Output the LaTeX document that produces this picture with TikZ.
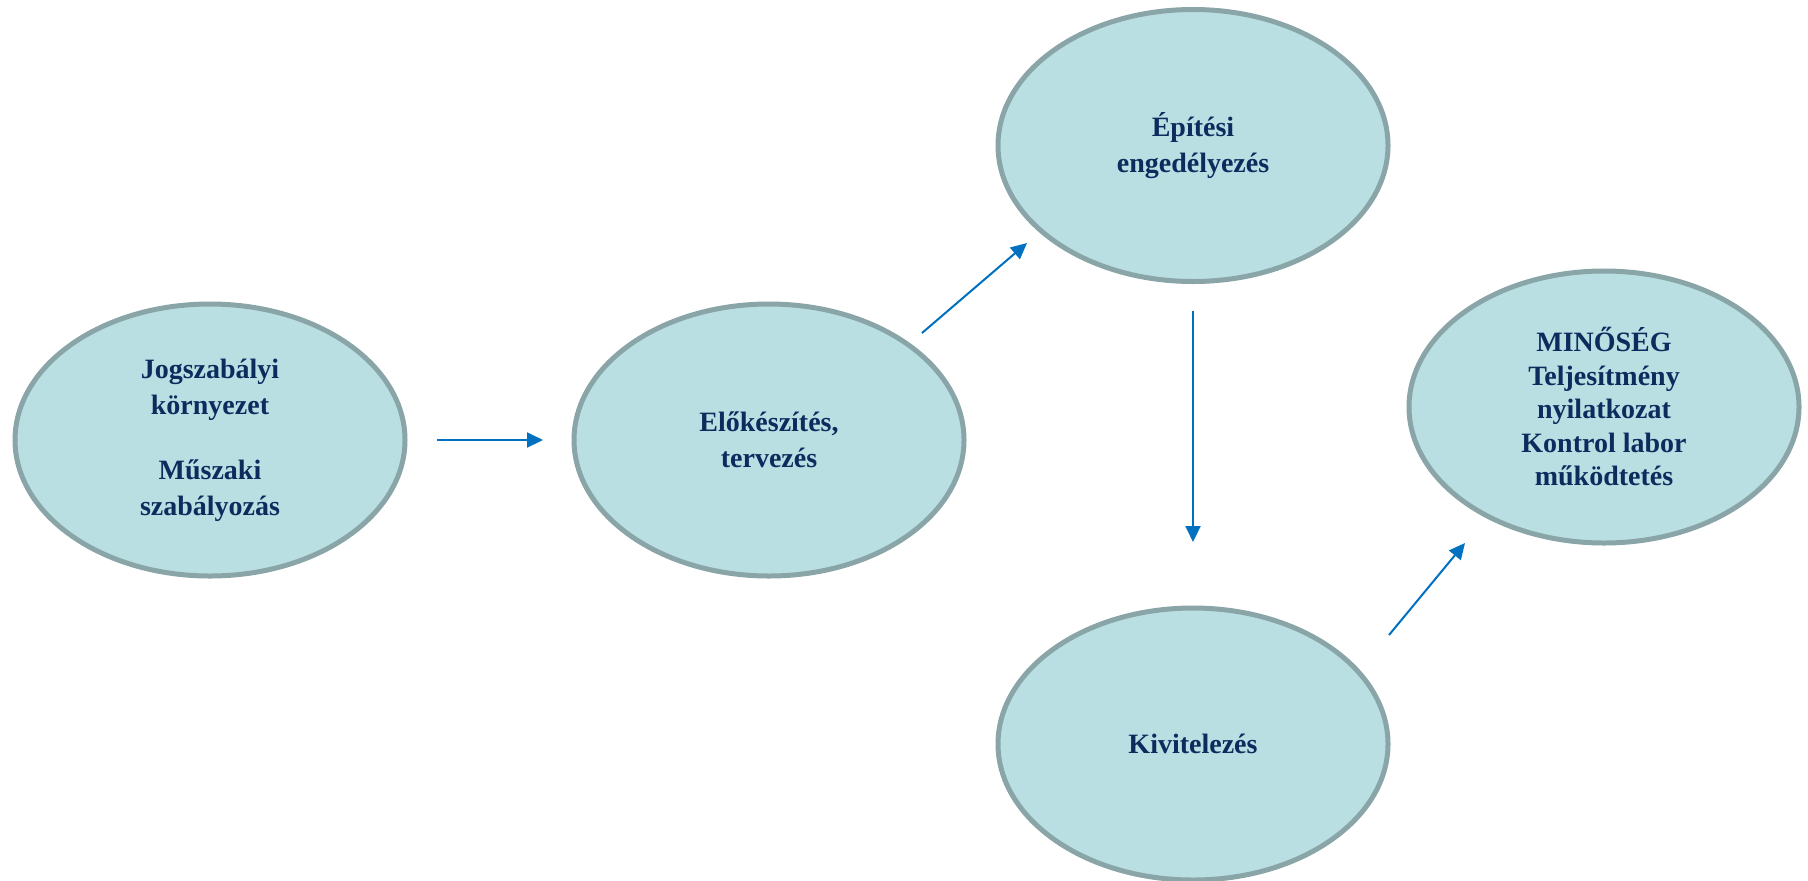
\documentclass[tikz,border=0pt]{standalone}
\usepackage{fontspec}
\setmainfont{Liberation Serif}
\usetikzlibrary{shapes.geometric,arrows.meta}
\definecolor{ovalfill}{RGB}{185,223,227}
\definecolor{ovaledge}{RGB}{138,165,168}
\definecolor{flowblue}{RGB}{0,112,192}
\definecolor{labelnavy}{RGB}{13,44,94}

\begin{document}
\begin{tikzpicture}[x=0.5pt,y=-0.5pt,
    phase/.style={ellipse,draw=ovaledge,fill=ovalfill,line width=2.5pt,
        minimum width=195pt,minimum height=136pt,inner sep=0pt,align=center,
        text=labelnavy,font=\fontsize{14}{18}\selectfont\bfseries},
    flow/.style={draw=flowblue,line width=1pt,-{Triangle[length=8pt,width=7.5pt]}}]
    \useasboundingbox (0,0) rectangle (1808,880);
    \node[phase] (jog) at (210,440) {Jogszabályi\\környezet\\[14.5pt]Műszaki\\szabályozás};
    \node[phase] (elo) at (769,440) {Előkészítés,\\tervezés};
    \node[phase] (eng) at (1193,145.5) {Építési\\engedélyezés};
    \node[phase] (kiv) at (1193,744) {Kivitelezés};
    \node[phase,font=\fontsize{14}{16.75}\selectfont\bfseries] (min) at (1604,407)
        {MINŐSÉG\\Teljesítmény\\nyilatkozat\\Kontrol labor\\működtetés};
    \coordinate (jogout) at (437,440);
    \coordinate (eloin) at (543,440);
    \coordinate (eloout) at (922,333);
    \coordinate (engin) at (1027,243);
    \coordinate (engout) at (1193,311);
    \coordinate (kivin) at (1193,542);
    \coordinate (kivout) at (1389,635);
    \coordinate (minin) at (1465,543);
    \draw[flow] (jogout) -- (eloin);
    \draw[flow] (eloout) -- (engin);
    \draw[flow] (engout) -- (kivin);
    \draw[flow] (kivout) -- (minin);
\end{tikzpicture}
\end{document}
